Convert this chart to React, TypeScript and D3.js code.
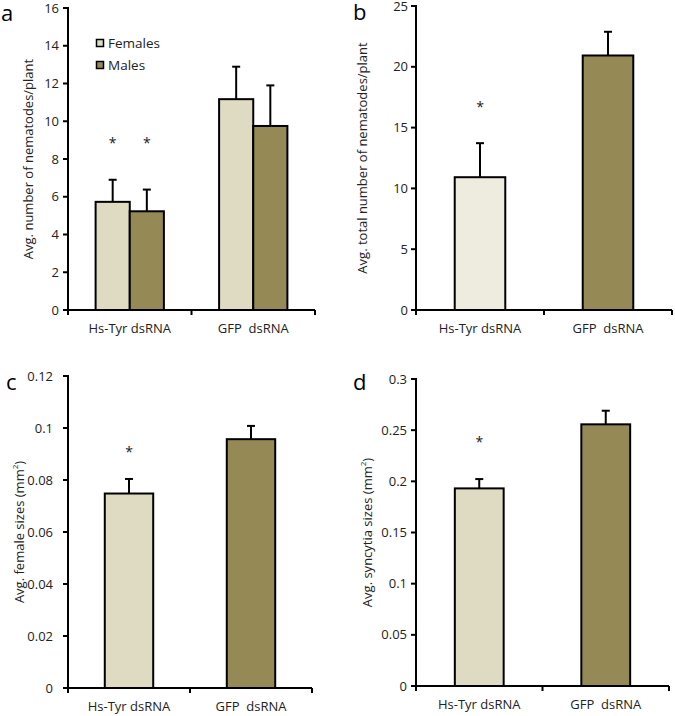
import React from "react";
import * as d3 from "d3";

const categories = ["Hs-Tyr dsRNA", "GFP  dsRNA"];

// Panel a
const aSeries = ["Females", "Males"];
const aFemales = [5.73, 11.17];
const aFemalesErr = [1.17, 1.72];
const aMales = [5.23, 9.75];
const aMalesErr = [1.15, 2.15];
const aTicks = [0, 2, 4, 6, 8, 10, 12, 14, 16];
const aStars = [9, 9];

// Panel b
const bValues = [10.92, 20.93];
const bErr = [2.8, 1.95];
const bTicks = [0, 5, 10, 15, 20, 25];
const bStar = 16.9;

// Panel c
const cValues = [0.0748, 0.0957];
const cErr = [0.0056, 0.0051];
const cTicks = [0, 0.02, 0.04, 0.06, 0.08, 0.1, 0.12];
const cStar = 0.092;

// Panel d
const dValues = [0.1931, 0.2557];
const dErr = [0.0091, 0.0133];
const dTicks = [0, 0.05, 0.1, 0.15, 0.2, 0.25, 0.3];
const dStar = 0.241;

const FONT = "'Open Sans', sans-serif";
const C_FEMALE = "#DFDBC3";
const C_MALE = "#958A56";
const C_LIGHT = "#EEEBDF";
const C_TEXT = "#222";
const FS = 13;

type Bar = { cat: number; sub: number; value: number; err: number; fill: string };

type PanelProps = {
  letter: string;
  letterX: number;
  letterY: number;
  left: number;
  right: number;
  top: number;
  bottom: number;
  ticks: number[];
  fmt: (v: number) => string;
  labelGap: number;
  groupRatio: number;
  nSub: number;
  bars: Bar[];
  stars: { cat: number; sub: number; value: number }[];
  title: React.ReactNode;
  titleX: number;
  children?: React.ReactNode;
};

function Panel(p: PanelProps) {
  const y = d3
    .scaleLinear()
    .domain([0, p.ticks[p.ticks.length - 1]])
    .range([p.bottom, p.top]);
  const x = d3.scaleBand<string>().domain(categories).range([p.left, p.right]).padding(0);
  const groupW = x.bandwidth() * p.groupRatio;
  const sub = d3
    .scaleBand<number>()
    .domain(d3.range(p.nSub))
    .range([0, groupW])
    .padding(0);
  const barX = (cat: number, s: number) =>
    (x(categories[cat]) as number) + (x.bandwidth() - groupW) / 2 + (sub(s) as number);
  const boundaries = [p.left, ...categories.map((c) => (x(c) as number) + x.bandwidth())];
  const titleY = (p.top + p.bottom) / 2;
  return (
    <g>
      <text x={p.letterX} y={p.letterY} fontSize={22} fontFamily={FONT} fill="#000">
        {p.letter}
      </text>
      {p.bars.map((b, i) => {
        const bx = barX(b.cat, b.sub);
        const cx = bx + sub.bandwidth() / 2;
        return (
          <g key={i}>
            <line
              x1={cx}
              x2={cx}
              y1={y(b.value)}
              y2={y(b.value + b.err)}
              stroke="#000"
              strokeWidth={2}
            />
            <line
              x1={cx - 4}
              x2={cx + 4}
              y1={y(b.value + b.err)}
              y2={y(b.value + b.err)}
              stroke="#000"
              strokeWidth={2}
            />
            <rect
              x={bx}
              y={y(b.value)}
              width={sub.bandwidth()}
              height={p.bottom - y(b.value)}
              fill={b.fill}
              stroke="#000"
              strokeWidth={2}
            />
          </g>
        );
      })}
      {p.stars.map((s, i) => (
        <text
          key={i}
          x={barX(s.cat, s.sub) + sub.bandwidth() / 2}
          y={y(s.value) + 8}
          fontSize={14}
          fontFamily={FONT}
          textAnchor="middle"
          fill={C_TEXT}
        >
          *
        </text>
      ))}
      <line x1={p.left} x2={p.left} y1={p.top - 1} y2={p.bottom} stroke="#000" strokeWidth={2} />
      {p.ticks.map((t) => (
        <g key={t}>
          <line x1={p.left - 5} x2={p.left} y1={y(t)} y2={y(t)} stroke="#000" strokeWidth={2} />
          <text
            x={p.left - 5 - p.labelGap}
            y={y(t) + 4.5}
            textAnchor="end"
            fontSize={FS}
            fontFamily={FONT}
            fill={C_TEXT}
          >
            {p.fmt(t)}
          </text>
        </g>
      ))}
      <line x1={p.left - 1} x2={p.right} y1={p.bottom} y2={p.bottom} stroke="#000" strokeWidth={2} />
      {boundaries.map((bx, i) => (
        <line key={i} x1={bx} x2={bx} y1={p.bottom} y2={p.bottom + 5} stroke="#000" strokeWidth={2} />
      ))}
      {categories.map((c) => (
        <text
          key={c}
          x={(x(c) as number) + x.bandwidth() / 2}
          y={p.bottom + 23}
          textAnchor="middle"
          fontSize={FS}
          fontFamily={FONT}
          fill={C_TEXT}
          style={{ whiteSpace: "pre" }}
        >
          {c}
        </text>
      ))}
      <text
        transform={`translate(${p.titleX},${titleY}) rotate(-90)`}
        textAnchor="middle"
        dominantBaseline="central"
        fontSize={FS}
        fontFamily={FONT}
        fill={C_TEXT}
      >
        {p.title}
      </text>
      {p.children}
    </g>
  );
}

export default function App() {
  const fmt0 = (v: number) => String(v);
  const fmtNum = (v: number) => String(+v.toFixed(3));
  const aBars: Bar[] = [
    ...aFemales.map((v, i) => ({ cat: i, sub: 0, value: v, err: aFemalesErr[i], fill: C_FEMALE })),
    ...aMales.map((v, i) => ({ cat: i, sub: 1, value: v, err: aMalesErr[i], fill: C_MALE })),
  ];
  const singleFills = [C_FEMALE, C_MALE];
  return (
    <svg
      width={675}
      height={716}
      style={{ display: "block", position: "absolute", left: 0, top: 0 }}
    >
      <rect x={0} y={0} width={675} height={716} fill="#fff" />
      <Panel
        letter="a"
        letterX={1}
        letterY={21}
        left={68}
        right={315}
        top={8}
        bottom={310}
        ticks={aTicks}
        fmt={fmt0}
        labelGap={4}
        groupRatio={0.553}
        nSub={2}
        bars={aBars}
        stars={[
          { cat: 0, sub: 0, value: aStars[0] },
          { cat: 0, sub: 1, value: aStars[1] },
        ]}
        title="Avg. number of nematodes/plant"
        titleX={28}
      >
        {aSeries.map((s, i) => (
          <g key={s}>
            <rect
              x={96.5}
              y={39.5 + i * 22}
              width={7}
              height={7}
              fill={i === 0 ? C_FEMALE : C_MALE}
              stroke="#000"
              strokeWidth={1.5}
            />
            <text x={108} y={47.5 + i * 22} fontSize={13.5} fontFamily={FONT} fill={C_TEXT}>
              {s}
            </text>
          </g>
        ))}
      </Panel>
      <Panel
        letter="b"
        letterX={353}
        letterY={20}
        left={416}
        right={672}
        top={6}
        bottom={310}
        ticks={bTicks}
        fmt={fmt0}
        labelGap={3}
        groupRatio={0.395}
        nSub={1}
        bars={bValues.map((v, i) => ({
          cat: i,
          sub: 0,
          value: v,
          err: bErr[i],
          fill: i === 0 ? C_LIGHT : C_MALE,
        }))}
        stars={[{ cat: 0, sub: 0, value: bStar }]}
        title="Avg. total number of nematodes/plant"
        titleX={362}
      />
      <Panel
        letter="c"
        letterX={6}
        letterY={390}
        left={68}
        right={312}
        top={376}
        bottom={688}
        ticks={cTicks}
        fmt={fmtNum}
        labelGap={10}
        groupRatio={0.397}
        nSub={1}
        bars={cValues.map((v, i) => ({
          cat: i,
          sub: 0,
          value: v,
          err: cErr[i],
          fill: singleFills[i],
        }))}
        stars={[{ cat: 0, sub: 0, value: cStar }]}
        title={
          <>
            Avg. female sizes (mm
            <tspan fontSize={8} dy={-5}>
              2
            </tspan>
            <tspan dy={5}>)</tspan>
          </>
        }
        titleX={19}
      />
      <Panel
        letter="d"
        letterX={353}
        letterY={390}
        left={416}
        right={669}
        top={379}
        bottom={686}
        ticks={dTicks}
        fmt={fmtNum}
        labelGap={4}
        groupRatio={0.386}
        nSub={1}
        bars={dValues.map((v, i) => ({
          cat: i,
          sub: 0,
          value: v,
          err: dErr[i],
          fill: singleFills[i],
        }))}
        stars={[{ cat: 0, sub: 0, value: dStar }]}
        title={
          <>
            Avg. syncytia sizes (mm
            <tspan fontSize={8} dy={-5}>
              2
            </tspan>
            <tspan dy={5}>)</tspan>
          </>
        }
        titleX={367}
      />
    </svg>
  );
}
